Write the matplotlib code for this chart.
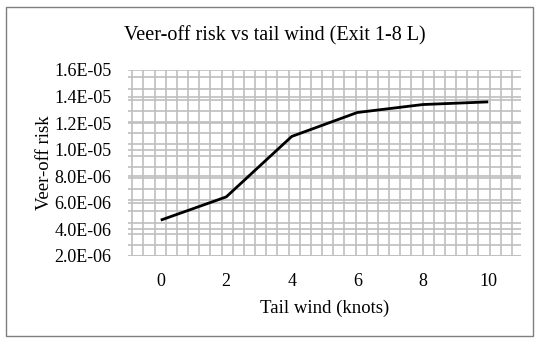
import numpy as np
import matplotlib.pyplot as plt
from matplotlib.patches import Rectangle

tail_wind = [0, 2, 4, 6, 8, 10]
veer_off_risk = [4.7e-6, 6.45e-6, 1.10e-5, 1.28e-5, 1.34e-5, 1.36e-5]
y_ticks = [2e-6, 4e-6, 6e-6, 8e-6, 1e-5, 1.2e-5, 1.4e-5, 1.6e-5]

plt.rcParams['font.family'] = ['Liberation Serif', 'DejaVu Serif']

fig = plt.figure(figsize=(5.5, 3.48), dpi=100)
fig.patches.append(Rectangle((6/550, 12/348), 527/550, 329/348, transform=fig.transFigure,
                             fill=False, edgecolor="#7f7f7f", linewidth=1.0))

ax = fig.add_axes([128/550, 1 - 256/348, 393/550, 186/348])
ax.set_xlim(-1, 11)
ax.set_ylim(2e-6, 1.6e-5)

grid = "#bfbfbf"
# minor grid, as in the original
for x in np.arange(-0.87, 10.8, 0.341):
    ax.axvline(x, color=grid, lw=1.2, zorder=1)
for y in np.arange(2e-6, 1.61e-5, 8.4e-7):
    ax.axhline(y, color=grid, lw=1.2, zorder=1)
for y in y_ticks:
    ax.axhline(y, color=grid, lw=1.2, zorder=1)

ax.plot(tail_wind, veer_off_risk, color="black", lw=2.0, zorder=3, solid_capstyle="butt")

ax.set_xticks(tail_wind)
ax.set_xticklabels([str(t) for t in tail_wind])
ax.set_yticks(y_ticks)
ax.set_yticklabels(["%.1E" % v for v in y_ticks])
ax.tick_params(length=0, labelsize=13)
ax.tick_params(axis="x", pad=12)
ax.tick_params(axis="y", pad=12)
for s in ax.spines.values():
    s.set_visible(False)

ax.set_xlabel("Tail wind (knots)", fontsize=13.5, labelpad=7)
ax.set_ylabel("Veer-off risk", fontsize=13.5, labelpad=1)
fig.text(0.5, 1 - 36/348, "Veer-off risk vs tail wind (Exit 1-8 L)", ha="center", va="center", fontsize=14.5)

fig.savefig("out.png", dpi=100)
